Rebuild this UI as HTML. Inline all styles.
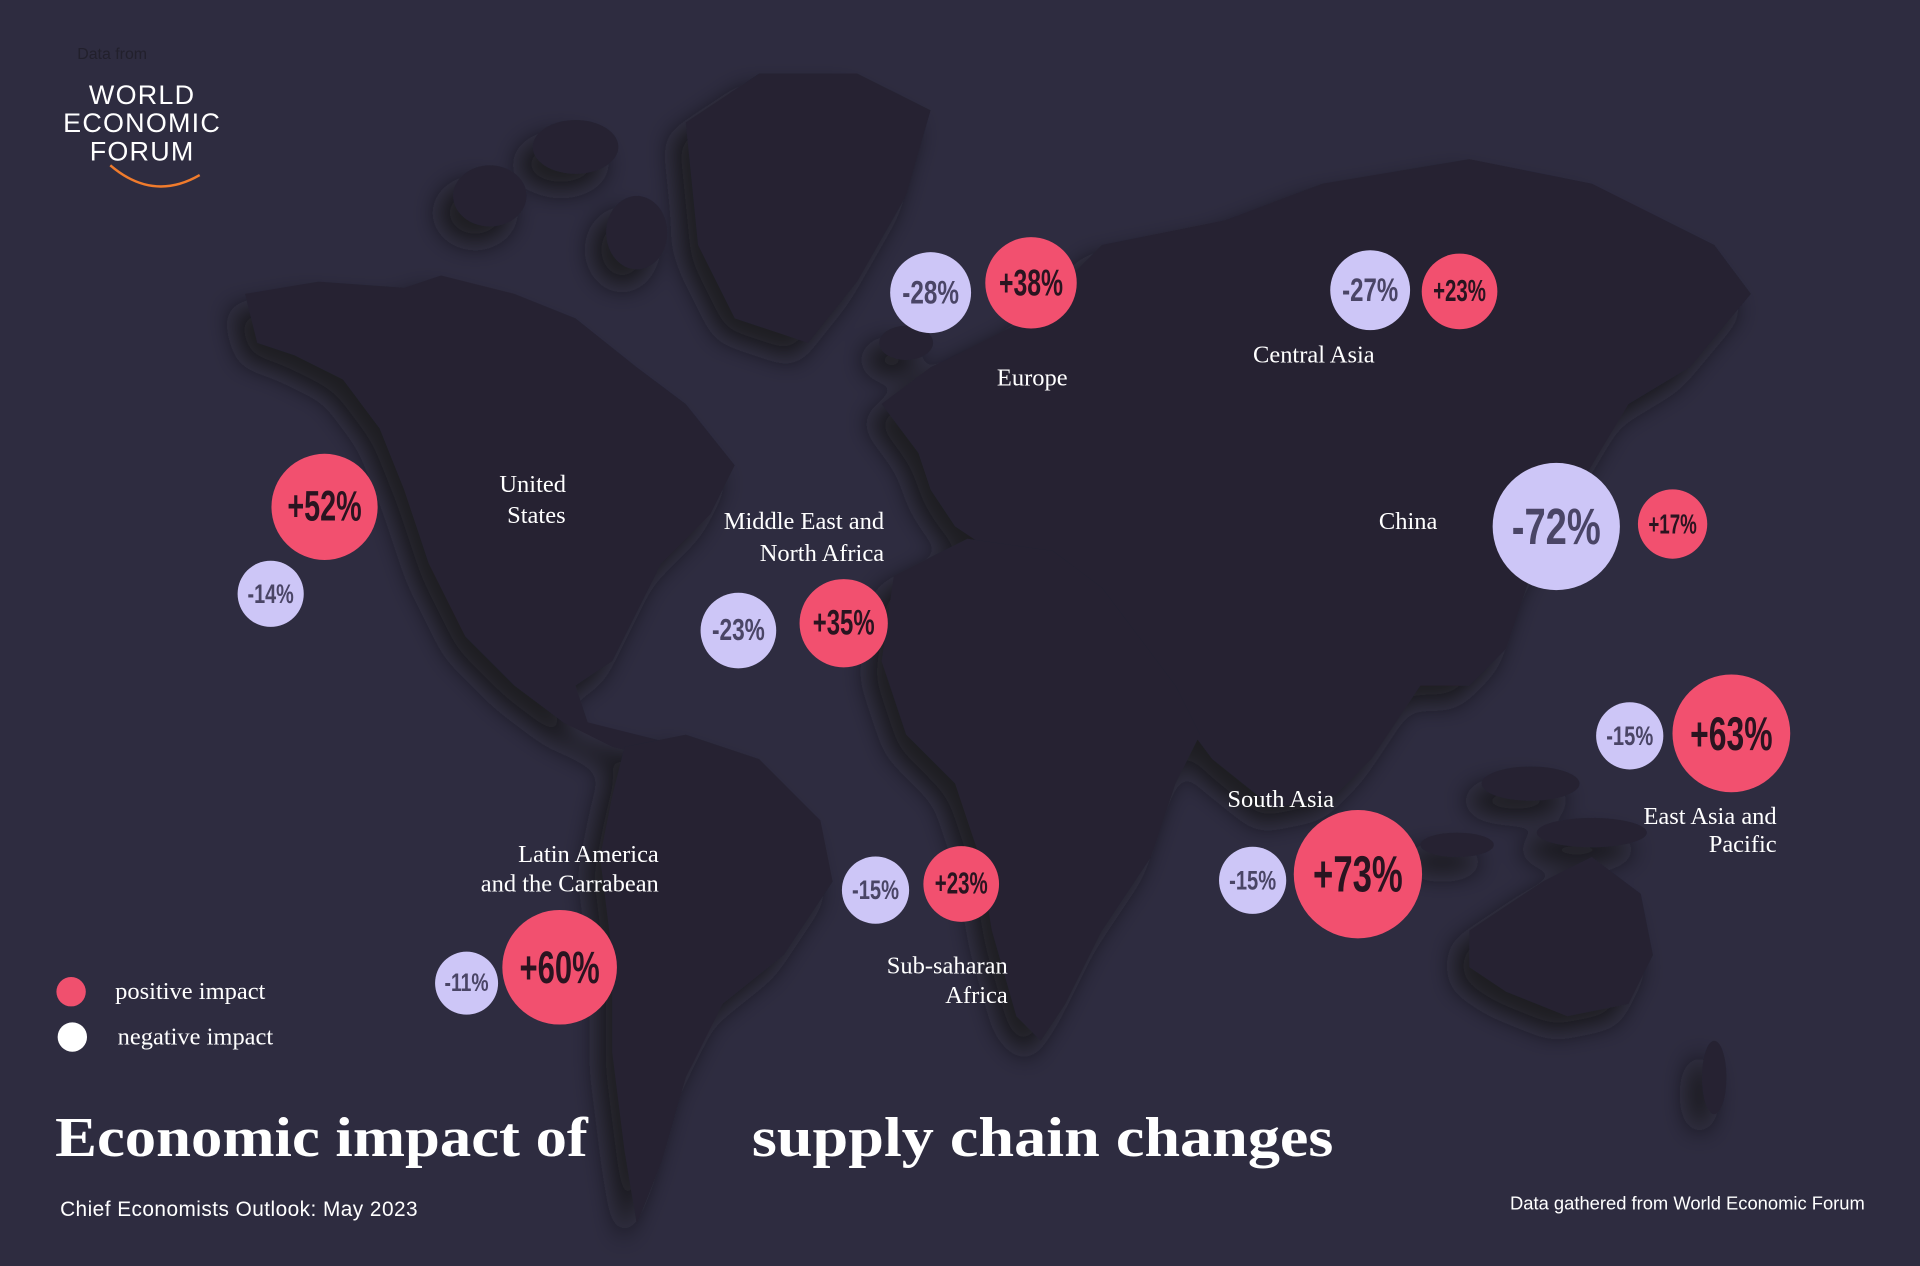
<!DOCTYPE html>
<html><head><meta charset="utf-8">
<style>
html,body{margin:0;padding:0;background:#2e2c40;}
svg{display:block;}
.lbl{font-family:"Liberation Serif",serif;fill:#fff;font-size:20px;}
.num{font-family:"Liberation Sans",sans-serif;font-weight:bold;text-anchor:middle;dominant-baseline:central;}
</style></head>
<body>
<svg id="chart" width="1920" height="1266" viewBox="0 0 1568 1034" xmlns="http://www.w3.org/2000/svg">
<defs>
<filter id="sh" x="-20%" y="-20%" width="140%" height="140%"><feDropShadow dx="-12" dy="14" stdDeviation="10" flood-color="#14131c" flood-opacity="0.8"/></filter>
</defs>
<rect width="1568" height="1034" fill="#2e2c40"/>
<g fill="#252332" filter="url(#sh)">
<path d="M200,240 L260,230 L330,235 L360,225 L420,240 L470,260 L520,300 L560,330 L600,380 L580,420 L540,460 L520,500 L500,540 L470,560 L480,590 L520,600 L560,610 L540,620 L500,610 L460,590 L420,560 L380,520 L350,460 L330,400 L310,350 L280,310 L240,290 L210,280Z"/>
<path d="M560,100 L620,60 L700,60 L760,90 L740,160 L700,230 L660,280 L600,260 L570,200Z"/>
<path d="M510,610 L560,600 L620,620 L670,670 L680,720 L640,780 L590,820 L560,880 L540,950 L520,1000 L510,940 L500,860 L500,780 L490,700 L500,650Z"/>
<path d="M720,330 L760,300 L800,280 L840,260 L900,200 L1000,180 L1080,150 L1200,130 L1300,150 L1400,200 L1430,240 L1380,300 L1330,330 L1300,380 L1250,470 L1230,530 L1200,560 L1160,560 L1120,620 L1090,650 L1040,660 L990,620 L960,580 L930,560 L900,560 L880,520 L850,480 L810,450 L780,430 L760,400 L750,370Z"/>
<path d="M730,470 L790,440 L860,450 L900,480 L930,520 L960,560 L980,600 L960,640 L940,700 L900,760 L870,820 L850,850 L830,830 L810,760 L800,700 L780,640 L740,600 L720,540Z"/>
<path d="M1200,760 L1260,720 L1300,700 L1340,730 L1350,780 L1330,820 L1280,830 L1230,810 L1200,790Z"/>
<ellipse cx="1250" cy="640" rx="40" ry="14"/><ellipse cx="1300" cy="680" rx="45" ry="12"/><ellipse cx="1190" cy="690" rx="30" ry="10"/>
<ellipse cx="400" cy="160" rx="30" ry="25"/><ellipse cx="470" cy="120" rx="35" ry="22"/><ellipse cx="520" cy="190" rx="25" ry="30"/><ellipse cx="740" cy="280" rx="22" ry="14"/>
<ellipse cx="1400" cy="880" rx="10" ry="30"/>
</g>
<g>
<text x="63" y="48" font-family="Liberation Sans,sans-serif" font-size="13" fill="#22202c">Data from</text>
<g font-family="Liberation Sans,sans-serif" font-size="22" fill="#fff" text-anchor="middle" letter-spacing="1">
<text x="116" y="85">WORLD</text><text x="116" y="108">ECONOMIC</text><text x="116" y="131">FORUM</text></g>
<path d="M90,135 Q125,165 163,143" stroke="#f07b2c" stroke-width="2" fill="none"/>
</g>
<g id="labels">
<text class="lbl" x="435" y="402" text-anchor="middle">United</text><text class="lbl" x="438" y="427" text-anchor="middle">States</text>
<text class="lbl" x="722" y="432" text-anchor="end">Middle East and</text><text class="lbl" x="722" y="458" text-anchor="end">North Africa</text>
<text class="lbl" x="843" y="315" text-anchor="middle" font-size="23">Europe</text>
<text class="lbl" x="1073" y="296" text-anchor="middle">Central Asia</text>
<text class="lbl" x="1150" y="432" text-anchor="middle" font-size="24">China</text>
<text class="lbl" x="1451" y="673" text-anchor="end">East Asia and</text><text class="lbl" x="1451" y="696" text-anchor="end">Pacific</text>
<text class="lbl" x="1046" y="659" text-anchor="middle">South Asia</text>
<text class="lbl" x="823" y="795" text-anchor="end">Sub-saharan</text><text class="lbl" x="823" y="819" text-anchor="end">Africa</text>
<text class="lbl" x="538" y="704" text-anchor="end">Latin America</text><text class="lbl" x="538" y="728" text-anchor="end">and the Carrabean</text>
</g>
<g id="bubbles"></g>
<g>
<circle cx="58" cy="810" r="12" fill="#f0506e"/>
<text class="lbl" x="94" y="816">positive impact</text>
<circle cx="59" cy="847" r="12" fill="#ffffff"/>
<text class="lbl" x="96" y="853">negative impact</text>
</g>
<g font-family="Liberation Serif,serif" font-weight="bold" font-size="46" fill="#fff">
<text x="45" y="944" textLength="435" lengthAdjust="spacingAndGlyphs">Economic impact of</text><text x="614" y="944" textLength="475" lengthAdjust="spacingAndGlyphs">supply chain changes</text></g>
<text x="49" y="993" font-family="Liberation Sans,sans-serif" font-size="17" fill="#fff" textLength="292">Chief Economists Outlook: May 2023</text>
<text x="1523" y="988" text-anchor="end" font-family="Liberation Sans,sans-serif" font-size="15" fill="#fff">Data gathered from World Economic Forum</text>
</svg>
<script>
const regions=["us","mena","europe","central-asia","china","east-asia","south-asia","ssa","latam"];
const negValues=[-14,-23,-28,-27,-72,-15,-15,-15,-11];
const posValues=[52,35,38,23,17,63,73,23,60];
const negCenters=[[221,485],[603,515],[760,239],[1119,237],[1271,430],[1331,601],[1023,719],[715,727],[381,803]];
const posCenters=[[265,414],[689,509],[842,231],[1192,238],[1366,428],[1414,599],[1109,714],[785,722],[457,790]];
const NS="http://www.w3.org/2000/svg";
const g=document.getElementById('bubbles');
function rScale(v){return 21+0.43*Math.abs(v);}
function bubble(c,v,fill,name){
  const r=rScale(v);
  const gg=document.createElementNS(NS,'g');
  
  
  const ci=document.createElementNS(NS,'circle');
  ci.setAttribute('cx',c[0]);ci.setAttribute('cy',c[1]);ci.setAttribute('r',r);ci.setAttribute('fill',fill);
  
  
  const t=document.createElementNS(NS,'text');
  t.setAttribute('class','num');t.setAttribute('x',c[0]);t.setAttribute('y',c[1]);
  t.setAttribute('font-size',(r*0.8).toFixed(1));
  t.setAttribute('textLength',(r*1.4).toFixed(1));
  t.setAttribute('lengthAdjust','spacingAndGlyphs');
  t.setAttribute('fill',v>0?'#2a1420':'#4a4566');
  t.textContent=(v>0?'+':'')+v+'%';
  
  
  gg.appendChild(ci);gg.appendChild(t);g.appendChild(gg);
}
regions.forEach((r,i)=>{
  bubble(negCenters[i],negValues[i],'#cdc6f7','bubble-'+r+'-negative');
  bubble(posCenters[i],posValues[i],'#f2506f','bubble-'+r+'-positive');
});
</script>
</body></html>
